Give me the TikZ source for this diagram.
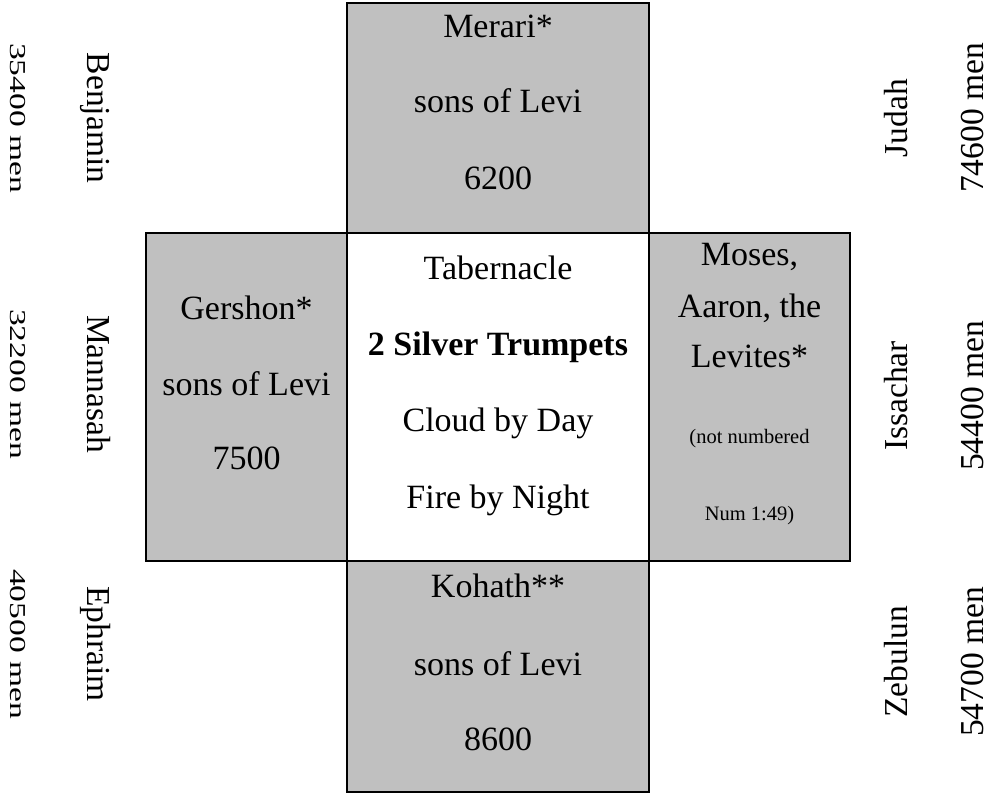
\documentclass[tikz,border=0pt]{standalone}
\usepackage{fontspec}
\setmainfont{Liberation Serif}
\definecolor{campgray}{RGB}{192,192,192}
\begin{document}
\begin{tikzpicture}[x=1pt,y=-1pt,
  camp/.style={draw,line width=2.6pt,fill=campgray,inner sep=0pt},
  tent/.style={draw,line width=2.6pt,fill=white,inner sep=0pt},
  lbl/.style={font=\fontsize{34}{40}\selectfont,inner sep=0pt,anchor=base},
  note/.style={font=\fontsize{20.5}{24}\selectfont,inner sep=0pt,anchor=base},
  tribe/.style={font=\fontsize{33.5}{40}\selectfont,inner sep=0pt,anchor=base}]
\useasboundingbox (0,0) rectangle (989,794);
\node[camp,minimum width=302pt,minimum height=230pt] (merari) at (498,118) {};
\node[camp,minimum width=201pt,minimum height=328pt] (gershon) at (246.5,397) {};
\node[camp,minimum width=201pt,minimum height=328pt] (moses) at (749.5,397) {};
\node[camp,minimum width=302pt,minimum height=231pt] (kohath) at (498,676.5) {};
\node[tent,minimum width=302pt,minimum height=328pt] (tabernacle) at (498,397) {};
\node[lbl] (merari1) at (498,38) {Merari*};
\node[lbl] (merari2) at (498,113) {sons of Levi};
\node[lbl] (merari3) at (498,190) {6200};
\node[lbl] (tab1) at (498,280) {Tabernacle};
\node[lbl] (tab2) at (498,356) {\textbf{2 Silver Trumpets}};
\node[lbl] (tab3) at (498,432) {Cloud by Day};
\node[lbl] (tab4) at (498,508) {Fire by Night};
\node[lbl] (gershon1) at (246.5,320) {Gershon*};
\node[lbl] (gershon2) at (246.5,396) {sons of Levi};
\node[lbl] (gershon3) at (246.5,470) {7500};
\node[lbl] (moses1) at (749.5,266) {Moses,};
\node[lbl] (moses2) at (749.5,318) {Aaron, the};
\node[lbl] (moses3) at (749.5,368) {Levites*};
\node[note] (moses4) at (749.5,444) {(not numbered};
\node[note] (moses5) at (749.5,520) {Num 1:49)};
\node[lbl] (kohath1) at (498,597) {Kohath**};
\node[lbl] (kohath2) at (498,675) {sons of Levi};
\node[lbl] (kohath3) at (498,750) {8600};
\node[tribe,rotate=-90] (benjamin) at (87.5,118) {Benjamin};
\node[tribe,rotate=-90,yscale=0.68] (benjaminmen) at (10,118) {35400 men};
\node[tribe,rotate=-90] (mannasah) at (87.5,384) {Mannasah};
\node[tribe,rotate=-90,yscale=0.68] (mannasahmen) at (10,384) {32200 men};
\node[tribe,rotate=-90] (ephraim) at (87.5,644) {Ephraim};
\node[tribe,rotate=-90,yscale=0.68] (ephraimmen) at (10,644) {40500 men};
\node[tribe,rotate=90] (judah) at (907,118) {Judah};
\node[tribe,rotate=90] (judahmen) at (983,118) {74600 men};
\node[tribe,rotate=90] (issachar) at (907,396) {Issachar};
\node[tribe,rotate=90] (issacharmen) at (983,396) {54400 men};
\node[tribe,rotate=90] (zebulun) at (907,662) {Zebulun};
\node[tribe,rotate=90] (zebulunmen) at (983,662) {54700 men};
\end{tikzpicture}
\end{document}
